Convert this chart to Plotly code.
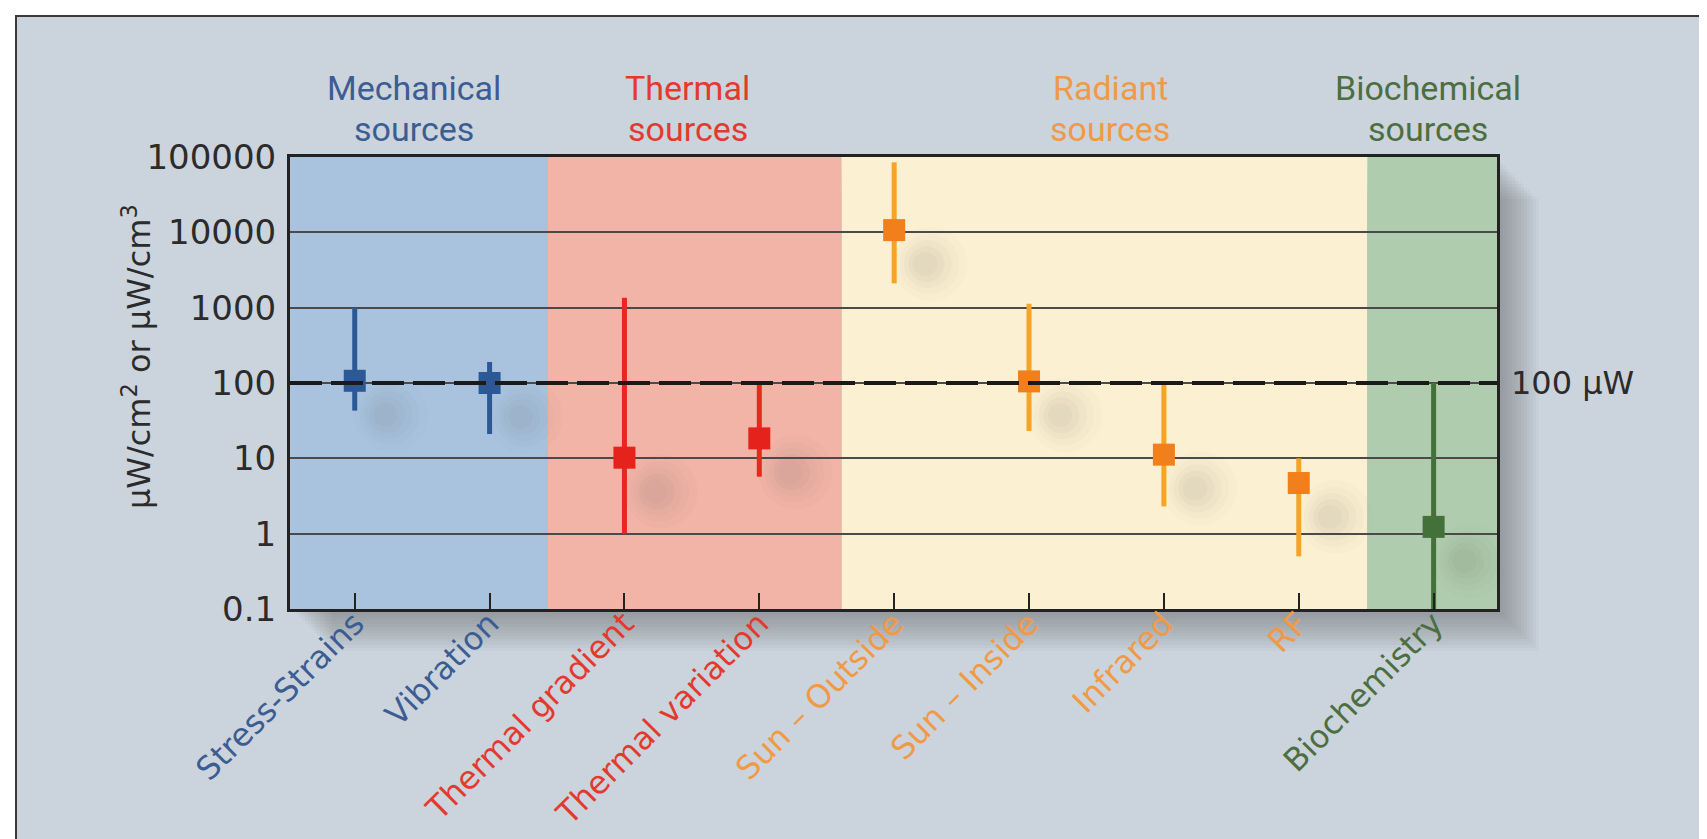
import plotly.graph_objects as go

# data (µW/cm2 or µW/cm3)
categories = ["Stress-Strains", "Vibration", "Thermal gradient", "Thermal variation",
              "Sun \u2013 Outside", "Sun \u2013 Inside", "Infrared", "RF", "Biochemistry"]
category_group = ["Mechanical", "Mechanical", "Thermal", "Thermal",
                  "Radiant", "Radiant", "Radiant", "Radiant", "Biochemical"]
typical = [107, 100, 10.2, 18.4, 10700, 105, 11.2, 4.7, 1.23]
low = [43, 21, 1.0, 5.7, 2100, 23, 2.3, 0.5, 0.1]
high = [1000, 190, 1350, 100, 85000, 1130, 100, 10, 100]

groups = ["Mechanical", "Thermal", "Radiant", "Biochemical"]
group_line1 = ["Mechanical", "Thermal", "Radiant", "Biochemical"]
group_line2 = ["sources", "sources", "sources", "sources"]

y_ticks = [0.1, 1, 10, 100, 1000, 10000, 100000]
y_tick_text = ["0.1", "1", "10", "100", "1000", "10000", "100000"]
reference_level = 100

# styling
group_marker = {"Mechanical": "#2d5896", "Thermal": "#e5221c", "Radiant": "#f07f1c", "Biochemical": "#44703a"}
group_bar = {"Mechanical": "#2d5896", "Thermal": "#e8281f", "Radiant": "#f5a423", "Biochemical": "#44703a"}
group_text = {"Mechanical": "#3b5d94", "Thermal": "#e4392e", "Radiant": "#f09a48", "Biochemical": "#4d6e41"}
group_band = {"Mechanical": "#a9c3df", "Thermal": "#f1b4a7", "Radiant": "#fbf0d2", "Biochemical": "#b0ccae"}
heading_shift = {"Mechanical": -8, "Thermal": -4, "Radiant": 14, "Biochemical": -6}
band_edges = [-0.48, 1.433, 3.61, 7.51, 8.47]

W, H = 1707, 839
ml, mr, mt, mb = 282, 218, 149, 238
pw, ph = W - ml - mr, H - mt - mb


def py(pix):
    # figure pixel row -> paper y
    return (mt + ph - pix) / ph


def px(pix):
    # figure pixel column -> paper x
    return (pix - ml) / pw


xs = list(range(len(categories)))

fig = go.Figure()

# soft blurred shadows behind the markers
for size, alpha, dx in [(74, 0.02, 0.27), (60, 0.025, 0.26), (48, 0.03, 0.25), (36, 0.035, 0.24), (24, 0.04, 0.23)]:
    fig.add_trace(go.Scatter(
        x=[x + dx for x in xs],
        y=[v * 10 ** -0.45 for v in typical],
        mode="markers",
        marker=dict(symbol="circle", size=size, color="rgba(95,95,95,%s)" % alpha, line=dict(width=0)),
        hoverinfo="skip", showlegend=False
    ))

for g in groups:
    idx = [i for i, cg in enumerate(category_group) if cg == g]
    fig.add_trace(go.Scatter(
        x=[xs[i] for i in idx],
        y=[typical[i] for i in idx],
        mode="markers",
        marker=dict(symbol="square", size=22, color=group_marker[g], line=dict(width=0)),
        error_y=dict(
            type="data", symmetric=False,
            array=[high[i] - typical[i] for i in idx],
            arrayminus=[typical[i] - low[i] for i in idx],
            color=group_bar[g], thickness=5, width=0
        ),
        name=g, showlegend=False, hoverinfo="skip"
    ))

shapes = []
# outer panel with border
shapes.append(dict(
    type="rect", xref="paper", yref="paper",
    x0=px(8), x1=px(1700), y0=py(833), y1=py(8),
    fillcolor="#cbd4dc", line=dict(color="#3a3a3a", width=2), layer="below"
))
# shadow of the plot frame
for i in range(14):
    d = 3 + 3 * i
    shapes.append(dict(
        type="rect", xref="paper", yref="paper",
        x0=d / pw, x1=1 + d / pw, y0=-d / ph, y1=1 - d / ph,
        fillcolor="rgba(50,60,70,0.03)", line=dict(width=0), layer="below"
    ))
# source bands
for k, g in enumerate(groups):
    shapes.append(dict(
        type="rect", xref="x", yref="paper",
        x0=band_edges[k], x1=band_edges[k + 1], y0=0, y1=1,
        fillcolor=group_band[g], line=dict(width=0), layer="below"
    ))
# 100 µW reference line
shapes.append(dict(
    type="line", xref="paper", yref="y", x0=0, x1=1,
    y0=reference_level, y1=reference_level,
    line=dict(color="#1a1a1a", width=4, dash="32px,9px"), layer="above"
))

annotations = []
for g, l1, l2 in zip(groups, group_line1, group_line2):
    idx = [i for i, cg in enumerate(category_group) if cg == g]
    cx = sum(xs[i] for i in idx) / len(idx)
    for text, row in [(l1, 80), (l2, 121)]:
        annotations.append(dict(
            x=cx, xref="x", y=py(row), yref="paper", xshift=heading_shift[g],
            text=text, showarrow=False, xanchor="center", yanchor="middle",
            font=dict(family="Roboto, Arial, sans-serif", size=34, color=group_text[g])
        ))
annotations.append(dict(
    x=1, xref="paper", y=2, yref="y", xshift=12,
    text="100 \u00b5W", showarrow=False, xanchor="left", yanchor="middle",
    font=dict(family="DejaVu Sans, sans-serif", size=32, color="#2b2b2b")
))
annotations.append(dict(
    x=px(129), xref="paper", y=py(349), yref="paper",
    text="\u00b5W/cm<sup>2</sup> or \u00b5W/cm<sup>3</sup>", textangle=-90,
    showarrow=False, xanchor="center", yanchor="middle",
    font=dict(family="DejaVu Sans, sans-serif", size=32, color="#2b2b2b")
))

tick_text = ["<span style='color:%s'>%s</span>" % (group_text[g], c)
             for c, g in zip(categories, category_group)]

fig.update_layout(
    width=W, height=H,
    margin=dict(l=ml, r=mr, t=mt, b=mb, autoexpand=False),
    paper_bgcolor="white",
    plot_bgcolor="rgba(0,0,0,0)",
    shapes=shapes,
    annotations=annotations,
    font=dict(family="DejaVu Sans, sans-serif", color="#2b2b2b"),
    showlegend=False,
    xaxis=dict(
        range=[band_edges[0], band_edges[-1]],
        tickmode="array", tickvals=xs, ticktext=tick_text,
        tickangle=-45, tickfont=dict(size=32), ticklabelstandoff=-20,
        ticks="inside", ticklen=16, tickwidth=2, tickcolor="#222",
        showgrid=False, zeroline=False,
        showline=True, linecolor="#222", linewidth=3, mirror=True
    ),
    yaxis=dict(
        type="log", range=[-1, 5],
        tickmode="array", tickvals=y_ticks, ticktext=y_tick_text,
        tickfont=dict(size=34), ticks="", ticklabelstandoff=4,
        showgrid=True, gridcolor="#4a4a4a", gridwidth=2,
        zeroline=False,
        showline=True, linecolor="#222", linewidth=3, mirror=True
    )
)

fig.write_html("out.html")
